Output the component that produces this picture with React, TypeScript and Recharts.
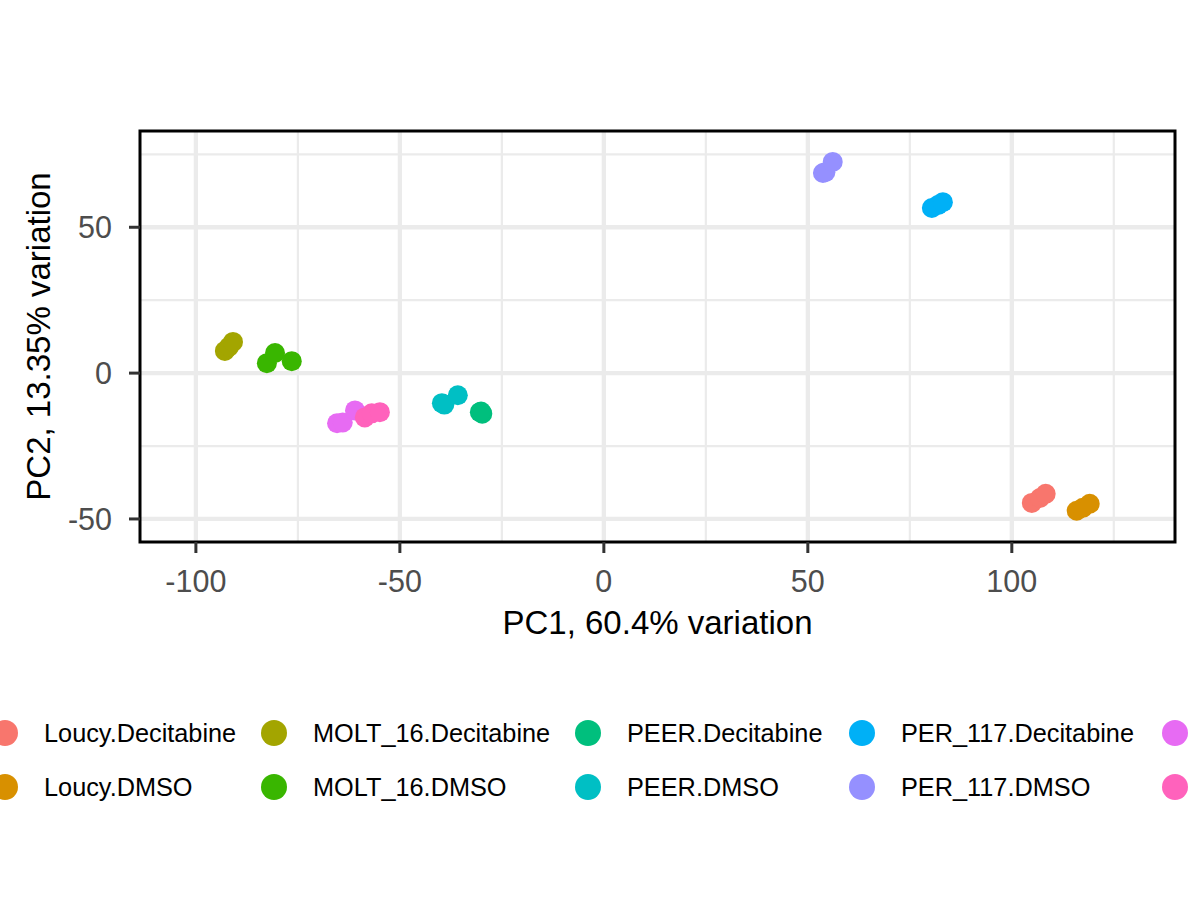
import React from 'react';
import { ScatterChart, Scatter, XAxis, YAxis, CartesianGrid, ReferenceArea } from 'recharts';

// sample groups, in legend order (ggplot default hue palette)
const groupNames = [
  'Loucy.Decitabine', 'Loucy.DMSO',
  'MOLT_16.Decitabine', 'MOLT_16.DMSO',
  'PEER.Decitabine', 'PEER.DMSO',
  'PER_117.Decitabine', 'PER_117.DMSO',
  // last two groups: names run off the right edge of the picture
  '', '',
];
const groupColors = [
  '#F8766D', '#D89000', '#A3A500', '#39B600', '#00BF7D',
  '#00BFC4', '#00B0F6', '#9590FF', '#E76BF3', '#FF62BC',
];

// one entry per sample: group index, PC1, PC2
const sampleGroup = [0, 0, 0, 1, 1, 1, 2, 2, 2, 3, 3, 3, 4, 4, 4, 5, 5, 5, 6, 6, 6, 7, 7, 7, 8, 8, 8, 9, 9, 9];
const pc1Values = [
  104.9, 106.9, 108.3,
  115.9, 117.4, 119.1,
  -92.9, -91.9, -90.9,
  -82.6, -80.6, -76.5,
  -30.4, -29.8, -30.1,
  -39.7, -39.1, -35.8,
  80.4, 81.9, 83.1,
  53.7, 54.3, 56.1,
  -65.4, -64.0, -61.0,
  -58.6, -56.9, -54.9,
];
const pc2Values = [
  -44.5, -42.8, -41.4,
  -47.2, -46.2, -44.8,
  7.6, 9.0, 10.7,
  3.4, 6.9, 4.1,
  -13.4, -13.9, -13.2,
  -10.3, -10.8, -7.6,
  56.6, 57.6, 58.6,
  68.6, 68.9, 72.4,
  -17.2, -16.9, -12.8,
  -15.2, -13.8, -13.4,
];

const xTicks = [-100, -50, 0, 50, 100];
const xMinor = [-75, -25, 25, 75, 125];
const yTicks = [-50, 0, 50];
const yMinor = [-25, 25, 75];
const xDomain: [number, number] = [-113.7, 140];
const yDomain: [number, number] = [-57.9, 83];

const FONT = '"Liberation Sans", Arial, Helvetica, sans-serif';

const seriesData = groupNames.map((name, gi) => ({
  key: `g${gi}`,
  name,
  color: groupColors[gi],
  points: sampleGroup
    .map((g, i) => ({ g, pc1: pc1Values[i], pc2: pc2Values[i] }))
    .filter(p => p.g === gi),
}));

const Dot = (props: any) => <circle cx={props.cx} cy={props.cy} r={10} fill={props.fill} />;

// legend columns (two rows, filled by column); last column runs off the page
const legendColX = [5, 274, 588, 862, 1175];
const legendRowY = [733, 787];

const PcaLegend = () => (
  <div style={{ position: 'absolute', left: 0, top: 0, width: 1200, height: 900, overflow: 'hidden', pointerEvents: 'none' }}>
    {groupNames.map((name, i) => {
      const cx = legendColX[Math.floor(i / 2)];
      const cy = legendRowY[i % 2];
      return (
        <React.Fragment key={i}>
          <div style={{
            position: 'absolute', left: cx - 13, top: cy - 13, width: 26, height: 26,
            borderRadius: '50%', background: groupColors[i],
          }} />
          {name && (
            <div style={{
              position: 'absolute', left: cx + 39, top: cy - 15, height: 30, lineHeight: '30px',
              fontFamily: FONT, fontSize: 25.3, color: '#000', whiteSpace: 'nowrap',
            }}>
              {name}
            </div>
          )}
        </React.Fragment>
      );
    })}
  </div>
);

export default function App() {
  return (
    <div style={{ position: 'absolute', left: 0, top: 0, width: 1200, height: 900, background: '#fff', overflow: 'hidden' }}>
      <ScatterChart width={1200} height={900} margin={{ top: 131, right: 25, bottom: 258, left: 0 }}>
        <CartesianGrid stroke="#EBEBEB" strokeWidth={2.2} verticalValues={xMinor} horizontalValues={yMinor} />
        <CartesianGrid stroke="#EBEBEB" strokeWidth={4.3} verticalValues={xTicks} horizontalValues={yTicks} />
        <XAxis
          type="number"
          dataKey="pc1"
          domain={xDomain}
          allowDataOverflow
          ticks={xTicks}
          height={100}
          axisLine={false}
          tickSize={11}
          tickMargin={17}
          tickLine={{ stroke: '#333333', strokeWidth: 3 }}
          tick={{ fill: '#4D4D4D', fontSize: 30.5, fontFamily: FONT }}
          label={{ value: 'PC1, 60.4% variation', position: 'insideTop', offset: 69, fill: '#000', fontSize: 33, fontFamily: FONT }}
        />
        <YAxis
          type="number"
          dataKey="pc2"
          domain={yDomain}
          allowDataOverflow
          ticks={yTicks}
          width={140}
          axisLine={false}
          tickSize={11}
          tickMargin={17}
          tickLine={{ stroke: '#333333', strokeWidth: 3 }}
          tick={{ fill: '#4D4D4D', fontSize: 30.5, fontFamily: FONT }}
          label={{ value: 'PC2, 13.35% variation', angle: -90, position: 'insideLeft', offset: 38, fill: '#000', fontSize: 33, fontFamily: FONT, style: { textAnchor: 'middle' } }}
        />
        {seriesData.map(s => (
          <Scatter key={s.key} name={s.name} data={s.points} fill={s.color} shape={Dot} isAnimationActive={false} />
        ))}
        <ReferenceArea
          x1={xDomain[0]} x2={xDomain[1]} y1={yDomain[0]} y2={yDomain[1]}
          fill="none" fillOpacity={0} stroke="#000" strokeWidth={3} ifOverflow="visible"
        />
      </ScatterChart>
      <PcaLegend />
    </div>
  );
}
